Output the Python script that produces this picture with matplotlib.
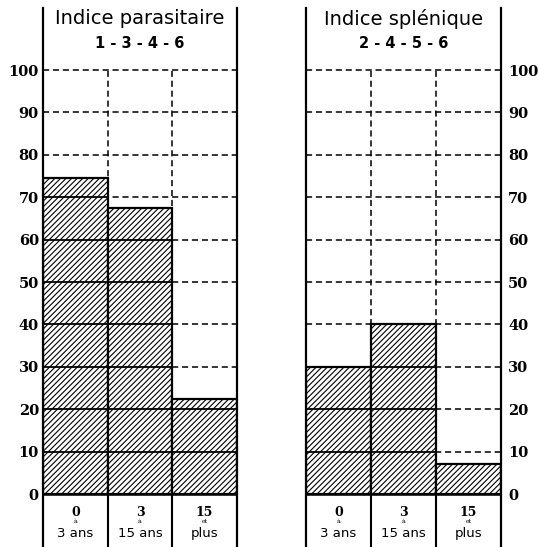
import numpy as np
import matplotlib.pyplot as plt

# data
categories = ['0', '3', '15']
connectors = ['à', 'à', 'et']
cat_bottom = ['3 ans', '15 ans', 'plus']
yticks = list(range(0, 101, 10))

titles = ['Indice parasitaire', 'Indice splénique']
subtitles = ['1 - 3 - 4 - 6', '2 - 4 - 5 - 6']
parasit = [74.5, 67.5, 22.5]
splen = [30, 40, 7]

W, H = 538, 547
Y0, Y100, YTOP = 494, 70, 8
ppu = (Y0 - Y100) / 100.0
ylo = -(H - Y0) / ppu
yhi = (Y0 - YTOP) / ppu

fig = plt.figure(figsize=(W / 100, H / 100), dpi=100)
plt.rcParams['hatch.linewidth'] = 0.8

panels = [(43, 194, parasit, 'left'), (306, 195, splen, 'right')]

for p, (x0, w, vals, side) in enumerate(panels):
    ax = fig.add_axes([x0 / W, 0, w / W, (H - YTOP) / H])
    ax.set_xlim(-0.5, 2.5)
    ax.set_ylim(ylo, yhi)
    X = np.arange(len(vals))

    # dashed grid (above the bars it shows as dashes)
    for yv in yticks[1:]:
        ax.plot([-0.5, 2.5], [yv, yv], color='black', lw=1.1,
                dashes=(4, 2.5), zorder=1)
    for xv in [0.5, 1.5]:
        ax.plot([xv, xv], [0, 100], color='black', lw=1.1,
                dashes=(4, 2.5), zorder=1)

    ax.bar(X, vals, width=1.0, color='white', edgecolor='black',
           hatch='//////', linewidth=1.6, zorder=2)
    # grid lines inside the bars are drawn solid
    for i, v in enumerate(vals):
        for yv in yticks[1:]:
            if yv < v:
                ax.plot([i - 0.5, i + 0.5], [yv, yv], color='black',
                        lw=1.3, zorder=3)

    # base line and label boxes
    ax.plot([-0.5, 2.5], [0, 0], color='black', lw=1.8, zorder=4)
    for xv in [0.5, 1.5]:
        ax.plot([xv, xv], [ylo, 0], color='black', lw=1.5, zorder=4)

    for s in ['top', 'bottom']:
        ax.spines[s].set_visible(False)
    for s in ['left', 'right']:
        ax.spines[s].set_linewidth(1.6)

    ax.set_xticks([])
    ax.set_yticks(yticks)
    ax.set_yticklabels([str(t) for t in yticks], fontfamily='DejaVu Serif',
                       fontweight='bold', fontsize=10.5)
    if side == 'left':
        ax.tick_params(axis='y', length=0, pad=3, left=True, labelleft=True)
    else:
        ax.yaxis.tick_right()
        ax.tick_params(axis='y', length=0, pad=5, right=True, labelright=True,
                       left=False, labelleft=False)

    for i in range(len(categories)):
        ax.text(i, -4.4, categories[i], ha='center', va='center',
                fontfamily='DejaVu Serif', fontweight='bold', fontsize=9)
        ax.text(i, -6.6, connectors[i], ha='center', va='center',
                fontfamily='DejaVu Serif', fontsize=4.5)
        ax.text(i, -9.3, cat_bottom[i], ha='center', va='center',
                fontfamily='DejaVu Sans', fontsize=9.5)

    ax.text(1, (Y0 - 19) / ppu, titles[p], ha='center', va='center',
            fontfamily='DejaVu Sans', fontsize=14)
    ax.text(1, (Y0 - 43) / ppu, subtitles[p], ha='center', va='center',
            fontfamily='DejaVu Sans', fontweight='bold', fontsize=10.5)

plt.savefig('out.png', dpi=100, facecolor='white')
